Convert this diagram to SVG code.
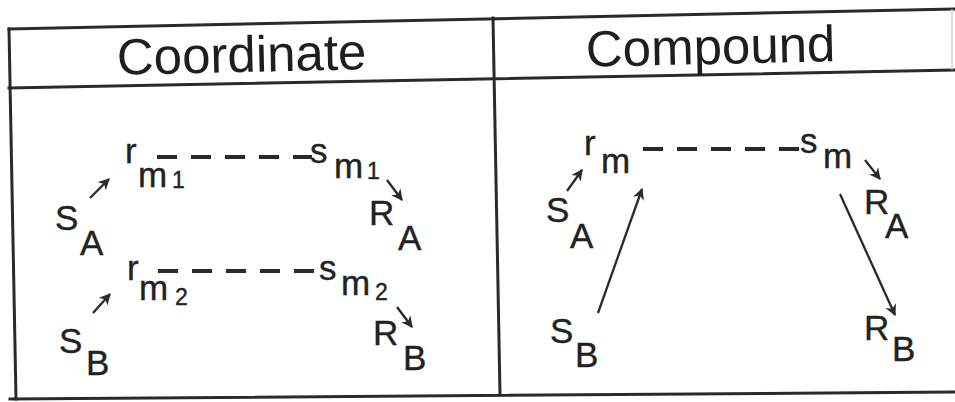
<svg xmlns="http://www.w3.org/2000/svg" width="955" height="402" viewBox="0 0 955 402">
<style>
.frame{stroke:#2a2a2a;stroke-width:3;fill:none;stroke-linecap:square}
.hd{font-family:"Liberation Sans",Arial,sans-serif;font-size:51px;fill:#1e1e1e}
.t{font-family:"Liberation Sans",Arial,sans-serif;font-size:35px;fill:#222;stroke:#222;stroke-width:0.4}
.d{font-family:"Liberation Sans",Arial,sans-serif;font-size:23px;fill:#222;stroke:#222;stroke-width:0.4}
.arr{stroke:#2a2a2a;stroke-width:2.3;fill:none;marker-end:url(#ah)}
.dash{stroke:#2a2a2a;stroke-width:3.8;fill:none;stroke-dasharray:20 14}
</style>
<defs>
<marker id="ah" viewBox="0 0 10 10" refX="9" refY="5" markerWidth="5" markerHeight="5" orient="auto" markerUnits="strokeWidth">
<path d="M0,0 L10,5 L0,10 L3,5 Z" fill="#2a2a2a"/>
</marker>
</defs>
<rect width="955" height="402" fill="#fff"/>
<g id="table">
<path class="frame" d="M9,29 L955,9"/>
<path class="frame" d="M9,88 L955,70"/>
<path class="frame" d="M10,399 L955,392"/>
<path class="frame" d="M9,29 L16,399"/>
<path class="frame" d="M493,18 L500,394"/>
<path d="M952,9 L952,70" stroke="#c8c8c8" stroke-width="1.2" fill="none"/>
</g>
<g id="header-coordinate"><text class="hd" x="242" y="72" text-anchor="middle" transform="rotate(-1.3 242 72)">Coordinate</text></g>
<g id="header-compound"><text class="hd" x="711" y="64" text-anchor="middle" transform="rotate(-1.3 711 64)">Compound</text></g>

<g id="coordinate-SA"><text class="t" x="55" y="230">S</text><text class="t" x="80" y="255">A</text></g>
<g id="coordinate-rm1"><text class="t" x="125" y="163">r</text><text class="t" x="138" y="187">m</text><text class="d" x="172" y="188">1</text></g>
<g id="coordinate-sm1"><text class="t" x="310" y="163">s</text><text class="t" x="334" y="178">m</text><text class="d" x="367" y="179">1</text></g>
<g id="coordinate-RA"><text class="t" x="369" y="225">R</text><text class="t" x="398" y="250">A</text></g>
<g id="coordinate-SB"><text class="t" x="59" y="353">S</text><text class="t" x="86" y="375">B</text></g>
<g id="coordinate-rm2"><text class="t" x="127" y="280">r</text><text class="t" x="139" y="300">m</text><text class="d" x="175" y="305">2</text></g>
<g id="coordinate-sm2"><text class="t" x="319" y="280">s</text><text class="t" x="341" y="295">m</text><text class="d" x="375" y="300">2</text></g>
<g id="coordinate-RB"><text class="t" x="373" y="345">R</text><text class="t" x="403" y="370">B</text></g>

<g id="compound-SA"><text class="t" x="546" y="222">S</text><text class="t" x="570" y="248">A</text></g>
<g id="compound-rm"><text class="t" x="584" y="155">r</text><text class="t" x="601" y="173">m</text></g>
<g id="compound-sm"><text class="t" x="800" y="153">s</text><text class="t" x="823" y="168">m</text></g>
<g id="compound-RA"><text class="t" x="864" y="214">R</text><text class="t" x="885" y="238">A</text></g>
<g id="compound-SB"><text class="t" x="550" y="343">S</text><text class="t" x="575" y="367">B</text></g>
<g id="compound-RB"><text class="t" x="864" y="340">R</text><text class="t" x="892" y="361">B</text></g>

<g id="connectors">
<path class="dash" d="M157,157 L312,157"/>
<path class="dash" d="M158,271 L318,271"/>
<path class="dash" d="M643,149 L800,149"/>
<path class="arr" d="M90,198 L109,179"/>
<path class="arr" d="M387,180 L402,200"/>
<path class="arr" d="M93,313 L110,294"/>
<path class="arr" d="M397,307 L412,327"/>
<path class="arr" d="M567,191 L582,170"/>
<path class="arr" d="M865,160 L880,179"/>
<path class="arr" d="M598,313 L642,189"/>
<path class="arr" d="M840,194 L895,315"/>
</g>
</svg>
